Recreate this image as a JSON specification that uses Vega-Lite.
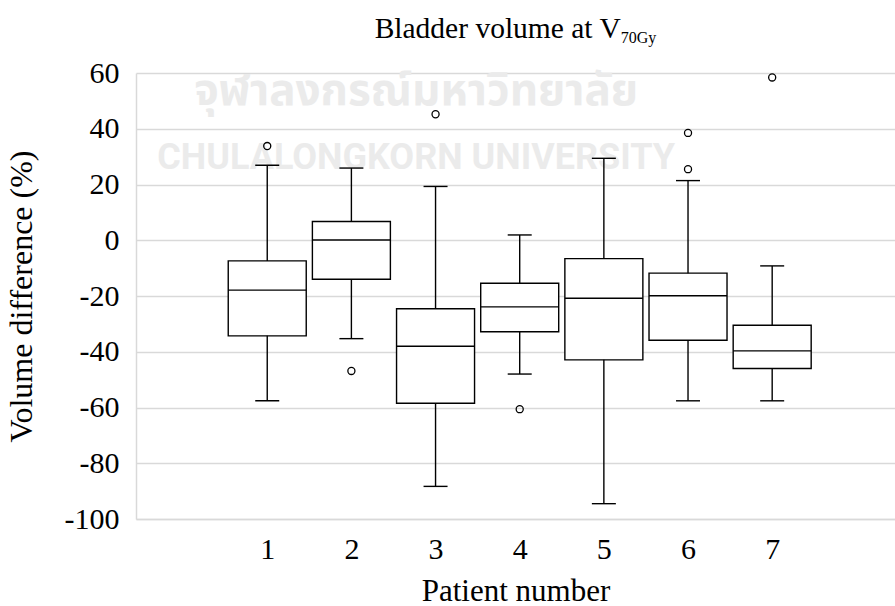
{
  "$schema": "https://vega.github.io/schema/vega-lite/v6.json",
  "width": 759,
  "height": 446,
  "autosize": {"type": "none"},
  "padding": {"left": 136, "top": 73, "right": 0, "bottom": 87},
  "background": "white",
  "config": {
    "view": {"stroke": null},
    "axis": {
      "labelFont": "Liberation Serif",
      "titleFont": "Liberation Serif",
      "labelColor": "#000000",
      "titleColor": "#000000",
      "labelFontSize": 30,
      "titleFontSize": 31,
      "titleFontWeight": "normal",
      "ticks": false,
      "domainColor": "#d9d9d9",
      "domainWidth": 1.5,
      "gridColor": "#d9d9d9",
      "gridWidth": 1.5
    }
  },
  "datasets": {
    "boxes": [
      {"patient": 1, "lo": -57.6, "q1": -34.3, "med": -17.9, "q3": -7.4, "hi": 26.9},
      {"patient": 2, "lo": -35.3, "q1": -14.0, "med": 0.1, "q3": 6.7, "hi": 25.9},
      {"patient": 3, "lo": -88.3, "q1": -58.5, "med": -38.0, "q3": -24.6, "hi": 19.3},
      {"patient": 4, "lo": -48.0, "q1": -32.8, "med": -23.9, "q3": -15.4, "hi": 1.9},
      {"patient": 5, "lo": -94.5, "q1": -42.9, "med": -20.8, "q3": -6.6, "hi": 29.4},
      {"patient": 6, "lo": -57.6, "q1": -35.9, "med": -19.9, "q3": -11.8, "hi": 21.4},
      {"patient": 7, "lo": -57.6, "q1": -46.0, "med": -39.7, "q3": -30.5, "hi": -9.2}
    ],
    "outliers": [
      {"patient": 1, "value": 33.8},
      {"patient": 2, "value": -46.9},
      {"patient": 3, "value": 45.2},
      {"patient": 4, "value": -60.6},
      {"patient": 6, "value": 38.5},
      {"patient": 6, "value": 25.5},
      {"patient": 7, "value": 58.4}
    ]
  },
  "layer": [
    {
      "data": {"values": [{"wm": "จุฬาลงกรณ์มหาวิทยาลัย", "px": 2.77, "py": 53.2}]},
      "mark": {"type": "text", "font": "Noto Sans Thai, Noto Sans, sans-serif", "fontSize": 44, "fontWeight": "bold", "color": "#ebebeb", "align": "center", "baseline": "middle", "clip": false},
      "encoding": {
        "x": {"field": "px", "type": "quantitative", "scale": {"domain": [-0.5, 8.4], "nice": false, "zero": false}, "axis": {"values": [1, 2, 3, 4, 5, 6, 7], "grid": false, "labelPadding": 15, "labelExpr": "'' + datum.value", "title": "Patient number", "titlePadding": 12}},
        "y": {"field": "py", "type": "quantitative", "scale": {"domain": [-100, 60], "nice": false, "zero": false}, "axis": {"values": [-100, -80, -60, -40, -20, 0, 20, 40, 60], "grid": true, "labelPadding": 17, "labelExpr": "'' + datum.value", "title": "Volume difference (%)", "titleFontSize": 32, "titlePadding": 26}},
        "text": {"field": "wm"}
      }
    },
    {
      "data": {"values": [{"wm": "CHULALONGKORN UNIVERSITY", "px": 2.77, "py": 29.5}]},
      "mark": {"type": "text", "font": "Roboto", "fontSize": 36, "fontWeight": "bold", "color": "#ebebeb", "align": "center", "baseline": "middle", "clip": false},
      "encoding": {
        "x": {"field": "px", "type": "quantitative"},
        "y": {"field": "py", "type": "quantitative"},
        "text": {"field": "wm"}
      }
    },
    {
      "data": {"name": "boxes"},
      "mark": {"type": "rule", "color": "#000000", "strokeWidth": 1.4},
      "encoding": {
        "x": {"field": "patient", "type": "quantitative"},
        "y": {"field": "lo", "type": "quantitative"},
        "y2": {"field": "hi"}
      }
    },
    {
      "data": {"name": "boxes"},
      "mark": {"type": "bar", "size": 78, "fill": "white", "stroke": "#000000", "strokeWidth": 1.4},
      "encoding": {
        "x": {"field": "patient", "type": "quantitative"},
        "y": {"field": "q1", "type": "quantitative"},
        "y2": {"field": "q3"}
      }
    },
    {
      "data": {"name": "boxes"},
      "mark": {"type": "tick", "orient": "horizontal", "size": 78, "thickness": 1.4, "color": "#000000", "opacity": 1},
      "encoding": {
        "x": {"field": "patient", "type": "quantitative"},
        "y": {"field": "med", "type": "quantitative"}
      }
    },
    {
      "data": {"name": "boxes"},
      "mark": {"type": "tick", "orient": "horizontal", "size": 24, "thickness": 1.4, "color": "#000000", "opacity": 1},
      "encoding": {
        "x": {"field": "patient", "type": "quantitative"},
        "y": {"field": "lo", "type": "quantitative"}
      }
    },
    {
      "data": {"name": "boxes"},
      "mark": {"type": "tick", "orient": "horizontal", "size": 24, "thickness": 1.4, "color": "#000000", "opacity": 1},
      "encoding": {
        "x": {"field": "patient", "type": "quantitative"},
        "y": {"field": "hi", "type": "quantitative"}
      }
    },
    {
      "data": {"name": "outliers"},
      "mark": {"type": "point", "shape": "circle", "filled": false, "size": 50, "stroke": "#000000", "strokeWidth": 1.3, "opacity": 1},
      "encoding": {
        "x": {"field": "patient", "type": "quantitative"},
        "y": {"field": "value", "type": "quantitative"}
      }
    },
    {
      "data": {"values": [{"t": "Bladder volume at V", "px": 5.2, "py": 72.6}]},
      "mark": {"type": "text", "font": "Liberation Serif", "fontSize": 29.5, "color": "#000000", "align": "right", "baseline": "alphabetic", "clip": false},
      "encoding": {
        "x": {"field": "px", "type": "quantitative"},
        "y": {"field": "py", "type": "quantitative"},
        "text": {"field": "t"}
      }
    },
    {
      "data": {"values": [{"t": "70Gy", "px": 5.2, "py": 70.9}]},
      "mark": {"type": "text", "font": "Liberation Serif", "fontSize": 16, "color": "#000000", "align": "left", "baseline": "alphabetic", "clip": false},
      "encoding": {
        "x": {"field": "px", "type": "quantitative"},
        "y": {"field": "py", "type": "quantitative"},
        "text": {"field": "t"}
      }
    }
  ]
}
